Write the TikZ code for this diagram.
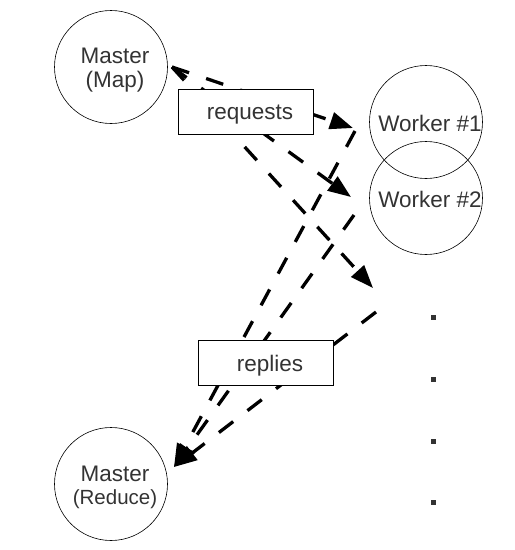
\documentclass[tikz,border=0pt]{standalone}
\usepackage{fontspec}
\setmainfont{Liberation Sans}
\usetikzlibrary{arrows.meta}

\tikzset{
  txt/.style={xshift=4pt, yshift=-3pt, align=center, text=black!80,
    font=\fontsize{22.5}{24}\selectfont},
  proc/.style={draw, circle, minimum size=113pt, inner sep=0pt, line width=0.6pt},
  msgbox/.style={draw, rectangle, minimum width=135pt, minimum height=45pt,
    line width=0.6pt, fill=white},
  msg/.style={line width=3.3pt, dash pattern=on 18pt off 18pt,
    -{Triangle[length=23pt,width=17pt]}},
  dotmark/.style={fill=black!80, minimum size=5pt, inner sep=0pt}
}

\begin{document}
\begin{tikzpicture}[x=1pt,y=-1pt]
\useasboundingbox (0,0) rectangle (515,550);

\node[proc, label={[txt]center:Master\\(Map)}] (mmap) at (111,67) {};
\node[proc, label={[txt]center:Master\\[-1pt]{\fontsize{20.5}{23}\selectfont(Reduce)}}] (mred) at (111,484) {};
\node[proc, label={[txt,yshift=2pt]center:Worker \#1}] (w1) at (426,122) {};
\node[proc, label={[txt,yshift=2pt]center:Worker \#2}] (w2) at (426,198) {};

\node[dotmark] (d1) at (433,317) {};
\node[dotmark] (d2) at (433,379) {};
\node[dotmark] (d3) at (433,441) {};
\node[dotmark] (d4) at (433,502) {};

% free ends of the messages
\coordinate (reqout) at (172,67);
\coordinate (req1) at (353,128);
\coordinate (req2) at (351,197);
\coordinate (req3) at (373,288);
\coordinate (rep1) at (355,131);
\coordinate (rep2) at (354,215);
\coordinate (rep3) at (376,312);
\coordinate (repin) at (174,467);

\draw[msg] (reqout) -- (req1);
\draw[msg] (reqout) -- (req2);
\draw[msg] (reqout) -- (req3);
\draw[msg] (rep1) -- (repin);
\draw[msg] (rep2) -- (repin);
\draw[msg] (rep3) -- (repin);

\node[msgbox, label={[txt]center:requests}] (req) at (246,112) {};
\node[msgbox, label={[txt]center:replies}] (rep) at (266,363) {};
\end{tikzpicture}
\end{document}
